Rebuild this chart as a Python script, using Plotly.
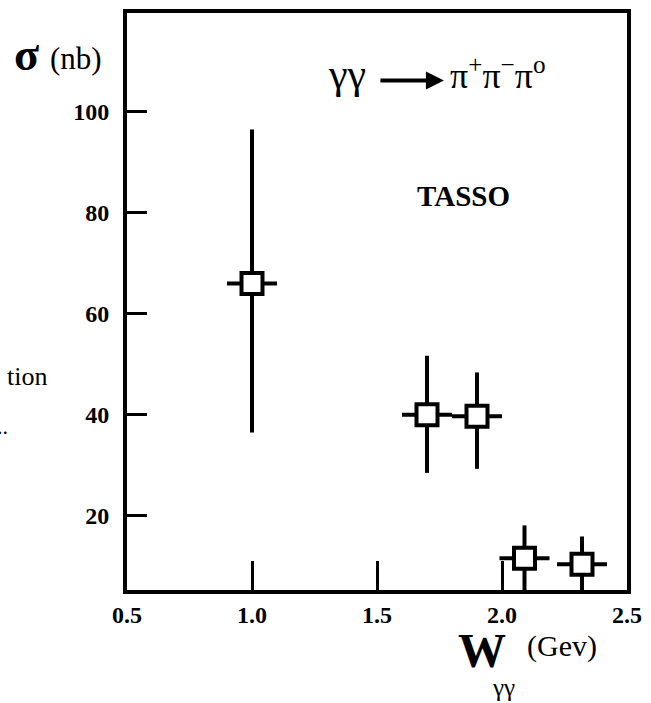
import plotly.graph_objects as go

# Cross section for gamma gamma -> pi+ pi- pi0 (TASSO)
w_gev = [1.0, 1.7, 1.9, 2.09, 2.32]
w_halfwidth = [0.1, 0.1, 0.1, 0.1, 0.1]
sigma_nb = [66.0, 40.0, 39.7, 11.6, 10.4]
sigma_err_up = [30.5, 11.7, 8.7, 6.5, 5.5]
sigma_err_down = [29.5, 11.5, 10.4, 7.0, 6.0]

x_ticks = [0.5, 1.0, 1.5, 2.0, 2.5]
x_tick_text = ["0.5", "1.0", "1.5", "2.0", "2.5"]
y_ticks = [20, 40, 60, 80, 100]
y_tick_text = ["20", "40", "60", "80", "100"]

W, H = 651, 703
L, R, T, B = 127, 635, 9, 590   # plot area in pixels

SERIF = "Liberation Serif, Times New Roman, serif"


def px(x):
    return (x - L) / (R - L)


def py(y):
    return (B - y) / (B - T)


fig = go.Figure()
fig.add_trace(go.Scatter(
    x=w_gev, y=sigma_nb, mode="markers",
    marker=dict(symbol="square", size=21, color="white",
                line=dict(color="black", width=4)),
    error_x=dict(type="data", array=w_halfwidth, color="black",
                 thickness=4, width=0),
    error_y=dict(type="data", array=sigma_err_up, arrayminus=sigma_err_down,
                 color="black", thickness=4, width=0),
    showlegend=False,
))

fig.update_layout(
    width=W, height=H,
    margin=dict(l=L, r=W - R, t=T, b=H - B, pad=0),
    paper_bgcolor="white", plot_bgcolor="white",
    font=dict(family=SERIF, color="black"),
)
fig.update_xaxes(
    range=[0.5, 2.5], tickvals=x_ticks, ticktext=x_tick_text,
    ticks="inside", ticklen=29, tickwidth=3, tickcolor="black",
    showline=True, linewidth=4, linecolor="black", mirror=True,
    showgrid=False, zeroline=False,
    tickfont=dict(family=SERIF, size=24, color="black", weight="bold"),
    ticklabelstandoff=0,
)
fig.update_yaxes(
    range=[5.3, 119.6], tickvals=y_ticks, ticktext=y_tick_text,
    ticks="inside", ticklen=20, tickwidth=3, tickcolor="black",
    showline=True, linewidth=4, linecolor="black", mirror=True,
    showgrid=False, zeroline=False,
    tickfont=dict(family=SERIF, size=24, color="black", weight="bold"),
    ticklabelstandoff=9,
)


def label(text, x, y, size, bold=False, xanchor="center"):
    fig.add_annotation(
        text=text, x=px(x), y=py(y), xref="paper", yref="paper",
        xanchor=xanchor, yanchor="middle", showarrow=False,
        font=dict(family=SERIF, size=size, color="black",
                  weight="bold" if bold else "normal"),
    )


# reaction: gamma gamma --> pi+ pi- pi0
label("γγ", 351, 70, 42)
fig.add_annotation(
    x=px(449), y=py(77), ax=-65, ay=0,
    xref="paper", yref="paper", axref="pixel", ayref="pixel",
    text="", showarrow=True, arrowhead=2, arrowsize=0.9,
    arrowwidth=4, arrowcolor="black",
)
label("π<sup>+</sup>π<sup>−</sup>π<sup>o</sup>", 453, 70, 36, xanchor="left")

label("TASSO", 469, 193, 29, bold=True)
label("σ", 25, 51, 46, bold=True)
label("(nb)", 75, 55, 31)
label("W", 488, 651, 48, bold=True)
label("(Gev)", 569, 646, 30)
label("γγ", 510, 688, 25)
label("tion", 48, 375, 26, xanchor="right")
label("..", 8, 425, 22, xanchor="right")

fig.write_html("out.html")
